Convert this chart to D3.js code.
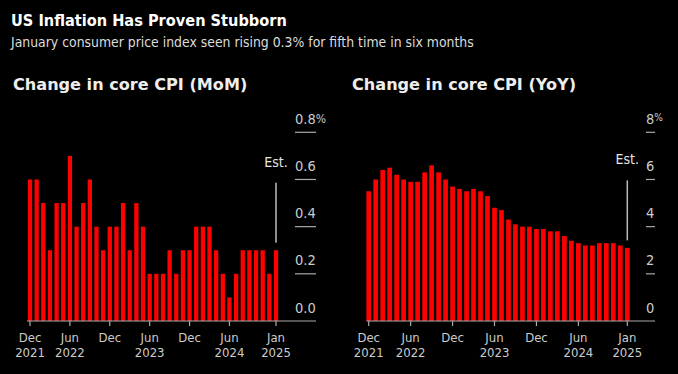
<!DOCTYPE html>
<html>
<head>
<meta charset="utf-8">
<script src="https://cdn.jsdelivr.net/npm/d3@7"></script>
<style>
  html, body { margin: 0; padding: 0; background: #000; }
  svg { display: block; }
  text { font-family: "DejaVu Sans", sans-serif; font-stretch: condensed; }
</style>
</head>
<body>
<svg id="chart" width="678" height="374"></svg>
<script>
// months Dec 2021 .. Jan 2025
const months = d3.timeMonths(new Date(2021, 11, 1), new Date(2025, 1, 1));

const momValues = [0.6, 0.6, 0.5, 0.3, 0.5, 0.5, 0.7, 0.4, 0.5, 0.6,
                   0.4, 0.3, 0.4, 0.4, 0.5, 0.3, 0.5, 0.4, 0.2, 0.2,
                   0.2, 0.3, 0.2, 0.3, 0.3, 0.4, 0.4, 0.4, 0.3, 0.2,
                   0.1, 0.2, 0.3, 0.3, 0.3, 0.3, 0.2, 0.3];

const yoyValues = [5.5, 6.0, 6.4, 6.5, 6.2, 6.0, 5.9, 5.9, 6.3, 6.6,
                   6.3, 6.0, 5.7, 5.6, 5.5, 5.6, 5.5, 5.3, 4.8, 4.7,
                   4.3, 4.1, 4.0, 4.0, 3.9, 3.9, 3.8, 3.8, 3.6, 3.4,
                   3.3, 3.2, 3.2, 3.3, 3.3, 3.3, 3.2, 3.1];

const tickIndex = [0, 6, 12, 18, 24, 30, 37];
const tickMonth = ["Dec", "Jun", "Dec", "Jun", "Dec", "Jun", "Jan"];
const tickYear  = ["2021", "2022", "", "2023", "", "2024", "2025"];

const momTicks = [0, 0.2, 0.4, 0.6, 0.8];
const yoyTicks = [0, 2, 4, 6, 8];
const momTickLabels = ["0.0", "0.2", "0.4", "0.6", "0.8"];
const yoyTickLabels = ["0", "2", "4", "6", "8"];

const svg = d3.select("#chart");

svg.append("text")
  .attr("x", 11).attr("y", 26)
  .attr("fill", "#fff")
  .attr("font-size", 16.2).attr("font-weight", "bold")
  .text("US Inflation Has Proven Stubborn");

svg.append("text")
  .attr("x", 11).attr("y", 47)
  .attr("fill", "#ddd")
  .attr("font-size", 13.85)
  .text("January consumer price index seen rising 0.3% for fifth time in six months");

const panels = [
  {title: "Change in core CPI (MoM)", values: momValues, ticks: momTicks, tickLabels: momTickLabels,
   left: 13, x0: 30, x1: 276, base0: 27, axisX: 295, max: 0.8, barW: 4.3},
  {title: "Change in core CPI (YoY)", values: yoyValues, ticks: yoyTicks, tickLabels: yoyTickLabels,
   left: 352, x0: 368.7, x1: 627.3, base0: 366.5, axisX: 646, max: 8, barW: 4.7}
];

panels.forEach(p => {
  let g = svg.append("g");

  g.append("text")
    .attr("x", p.left).attr("y", 90)
    .attr("fill", "#eee")
    .attr("font-size", 16.1).attr("font-weight", "bold")
    .style("font-stretch", "normal")
    .text(p.title);

  let x = d3.scalePoint().domain(d3.range(months.length)).range([p.x0, p.x1]);
  let y = d3.scaleLinear().domain([0, p.max]).range([321, 132.3]);
  let dashW = p.max < 1 ? 21 : 9;

  // gridline dashes + labels
  let ticks = g.selectAll(".ytick").data(p.ticks).enter().append("g").attr("class", "ytick");
  ticks.filter(d => d > 0).append("line")
    .attr("x1", p.axisX).attr("x2", p.axisX + dashW)
    .attr("y1", d => y(d)).attr("y2", d => y(d))
    .attr("stroke", "#aaa").attr("stroke-width", 1.2);
  let lbl = ticks.append("text")
    .attr("x", p.axisX).attr("y", d => y(d) - 8.5)
    .attr("fill", "#ccc").attr("font-size", 14.5)
    .text((d, i) => p.tickLabels[i]);
  lbl.filter(d => d === p.max).append("tspan")
    .attr("font-size", p.max < 1 ? 12 : 10)
    .attr("dy", p.max < 1 ? -1 : -3)
    .text("%");

  // bars
  g.selectAll("rect").data(p.values).enter().append("rect")
    .attr("x", (d, i) => x(i) - p.barW / 2)
    .attr("width", p.barW)
    .attr("y", d => y(d))
    .attr("height", d => y(0) - y(d))
    .attr("fill", "#f00");

  // baseline
  g.append("line")
    .attr("x1", p.base0).attr("x2", p.axisX + dashW)
    .attr("y1", y(0)).attr("y2", y(0))
    .attr("stroke", "#aaa").attr("stroke-width", 1.2);

  // x ticks and labels
  let xt = g.selectAll(".xtick").data(tickIndex).enter().append("g").attr("class", "xtick")
    .attr("transform", d => "translate(" + x(d) + ",0)");
  xt.append("line")
    .attr("y1", y(0)).attr("y2", y(0) + 5)
    .attr("stroke", "#aaa").attr("stroke-width", 1.2);
  xt.append("text")
    .attr("y", 341.5).attr("text-anchor", "middle")
    .attr("fill", "#ccc").attr("font-size", 13)
    .text((d, i) => tickMonth[i]);
  xt.append("text")
    .attr("y", 356.5).attr("text-anchor", "middle")
    .attr("fill", "#ccc").attr("font-size", 13)
    .text((d, i) => tickYear[i]);

  // estimate marker on last bar
  let last = p.values.length - 1;
  let top = y(p.values[last]);
  g.append("line")
    .attr("x1", x(last)).attr("x2", x(last))
    .attr("y1", top - 7.5).attr("y2", top - 67.5)
    .attr("stroke", "#bbb").attr("stroke-width", 1.5);
  g.append("text")
    .attr("x", x(last)).attr("y", top - 83.5)
    .attr("text-anchor", "middle")
    .attr("fill", "#e6e6e6").attr("font-size", 14)
    .text("Est.");
});
</script>
</body>
</html>
